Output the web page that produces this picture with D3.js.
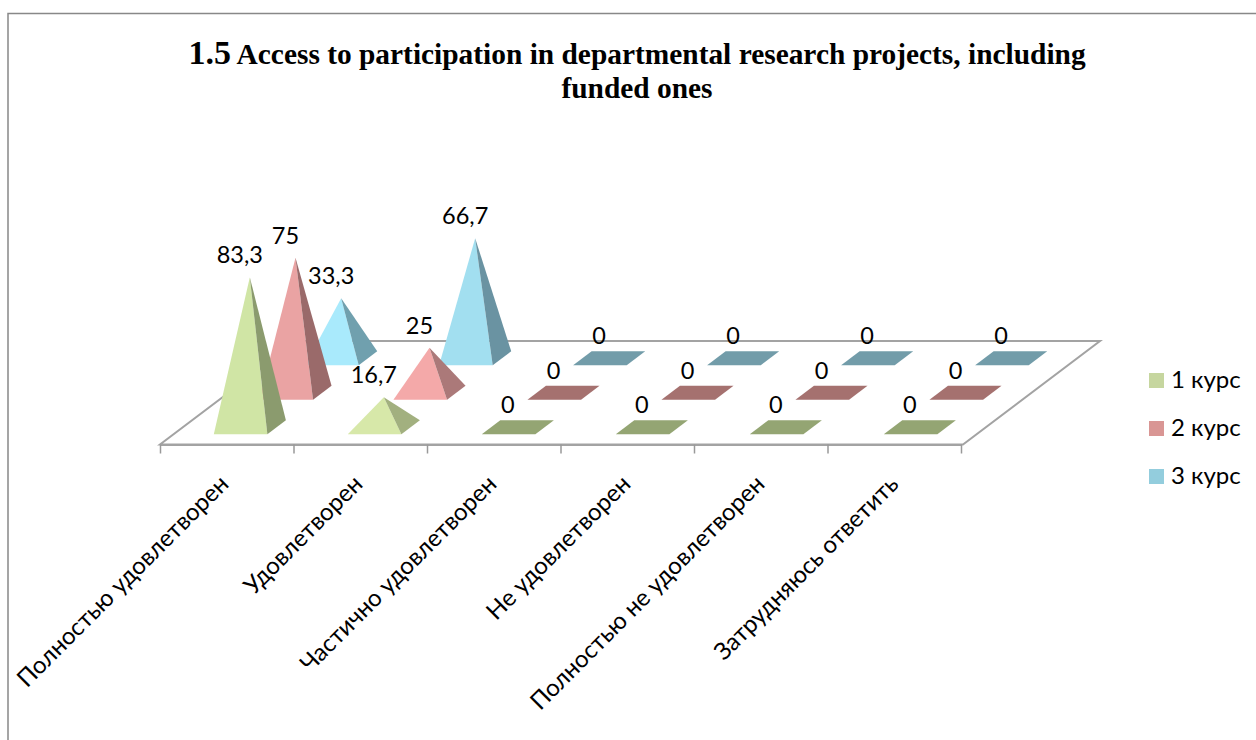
<!DOCTYPE html>
<html><head><meta charset="utf-8">
<script src="https://cdn.jsdelivr.net/npm/d3@7/dist/d3.min.js"></script>
<style>html,body{margin:0;padding:0;background:#fff}svg{display:block}</style></head>
<body><svg id="c" width="1256" height="740"></svg>
<script>
const categories = ["Полностью удовлетворен","Удовлетворен","Частично удовлетворен","Не удовлетворен","Полностью не удовлетворен","Затрудняюсь ответить"];
const seriesNames = ["1 курс","2 курс","3 курс"];
const course1 = [83.3,16.7,0,0,0,0];
const course2 = [75,25,0,0,0,0];
const course3 = [33.3,66.7,0,0,0,0];
const valueLabels = v => String(v).replace(".",",");
const legendColors = ["#c6d69f","#d99694","#93cddd"];
const frontTall = ["#d0e5a5","#eaa3a3","#a2dff0"];
const sideTall = ["#8b9b6e","#9a6a6a","#6a93a2"];
const frontShort = ["#d7e8a9","#f4a9a9","#a9eafc"];
const sideShort = ["#a2b07f","#ab7979","#70a0ae"];
const flatColors = ["#94a573","#a5716f","#729ca9"];

const svg = d3.select("#c");
// frame
svg.append("path").attr("d","M8,740V13.5H1256").attr("fill","none").attr("stroke","#888").attr("stroke-width",1.5);

// title
const title = svg.append("g").attr("font-family","Liberation Serif").attr("font-weight","bold").attr("fill","#000").attr("text-anchor","middle");
const t1 = title.append("text").attr("x",637).attr("y",64).attr("font-size",29.4);
t1.append("tspan").attr("font-size",34).text("1.5");
t1.append("tspan").text(" Access to participation in departmental research projects, including");
title.append("text").attr("x",637).attr("y",98).attr("font-size",29.4).text("funded ones");

// scales
const x0=160, xTickEnd=961, xFloorEnd=963, xBarEnd=964, yFront=444.5, depthDx=137, depthDy=103.5;
const xAxisScale = d3.scaleBand().domain(categories).range([x0,xTickEnd]);
const barBand = d3.scaleBand().domain(categories).range([x0,xBarEnd]).paddingInner(0.6).paddingOuter(0.3);
const depthBand = d3.scaleBand().domain(seriesNames).range([0,1]);
const h = d3.scaleLinear().domain([0,100]).range([0,180]);
const proj = (px,v,z=0)=>[px+depthDx*v, yFront-depthDy*v-h(z)];
const poly = pts => "M"+pts.map(p=>p.join(",")).join("L")+"Z";

// floor
svg.append("path").attr("d",poly([proj(x0,0),proj(xFloorEnd,0),proj(xFloorEnd,1),proj(x0,1)]))
  .attr("fill","#fff").attr("stroke","#a3a3a3").attr("stroke-width",2);

// x axis
const tickPos = d3.scaleLinear().domain([x0,xTickEnd]).range([x0,xTickEnd]);
const axis = d3.axisBottom(tickPos)
  .tickValues(d3.range(categories.length+1).map(i=>x0+i*xAxisScale.step()))
  .tickFormat("").tickSize(9).tickSizeOuter(0);
const ax = svg.append("g").attr("transform",`translate(0,${yFront})`).call(axis);
ax.select(".domain").attr("stroke","#a3a3a3").attr("stroke-width",2);
ax.selectAll(".tick line").attr("stroke","#999").attr("stroke-width",1.5);

svg.append("g").selectAll("text").data(categories).join("text")
  .attr("transform",d=>`translate(${barBand(d)+barBand.bandwidth()/2+3},${yFront+41}) rotate(-45)`)
  .attr("text-anchor","end").attr("font-family","Lato, Noto Sans").attr("font-size",24).attr("fill","#000")
  .text(d=>d);

// pyramids, back to front
const seriesValues = [course1,course2,course3];
const bandFrac = 0.405; // base depth as fraction of series band
const marks = svg.append("g");
const labels = [];
[2,1,0].forEach(si=>{
  const name = seriesNames[si];
  const vc = depthBand(name)+depthBand.bandwidth()/2;
  const hd = depthBand.bandwidth()*bandFrac/2;
  categories.forEach((cat,ci)=>{
    const val = seriesValues[si][ci];
    const bx = barBand(cat), bw = barBand.bandwidth();
    const fl = proj(bx,vc-hd), fr = proj(bx+bw,vc-hd), br = proj(bx+bw,vc+hd), bl = proj(bx,vc+hd);
    const apex = proj(bx+bw/2,vc,val);
    const g = marks.append("g");
    if(val===0){
      g.append("path").attr("d",poly([fl,fr,br,bl])).attr("fill",flatColors[si]);
    } else {
      const tall = val>50;
      g.append("path").attr("d",poly([fl,fr,apex])).attr("fill",tall?frontTall[si]:frontShort[si]);
      g.append("path").attr("d",poly([fr,br,apex])).attr("fill",tall?sideTall[si]:sideShort[si]);
    }
    labels.push({val,x:apex[0],y:apex[1]});
  });
});
svg.append("g").selectAll("text").data(labels).join("text")
  .attr("x",d=>d.x-10).attr("y",d=>d.y-14)
  .attr("text-anchor","middle").attr("font-family","Lato, Noto Sans").attr("font-size",23.5).attr("fill","#000")
  .text(d=>valueLabels(d.val));

// legend
const ly = d3.scalePoint().domain(seriesNames).range([380.5,476.5]);
const leg = svg.append("g").selectAll("g").data(seriesNames).join("g").attr("transform",d=>`translate(1149,${ly(d)})`);
leg.append("rect").attr("x",0).attr("y",-7.5).attr("width",15).attr("height",15).attr("fill",(d,i)=>legendColors[i]);
leg.append("text").attr("x",22).attr("y",7).attr("font-family","Lato, Noto Sans").attr("font-size",24).attr("fill","#000").text(d=>d);
</script></body></html>
